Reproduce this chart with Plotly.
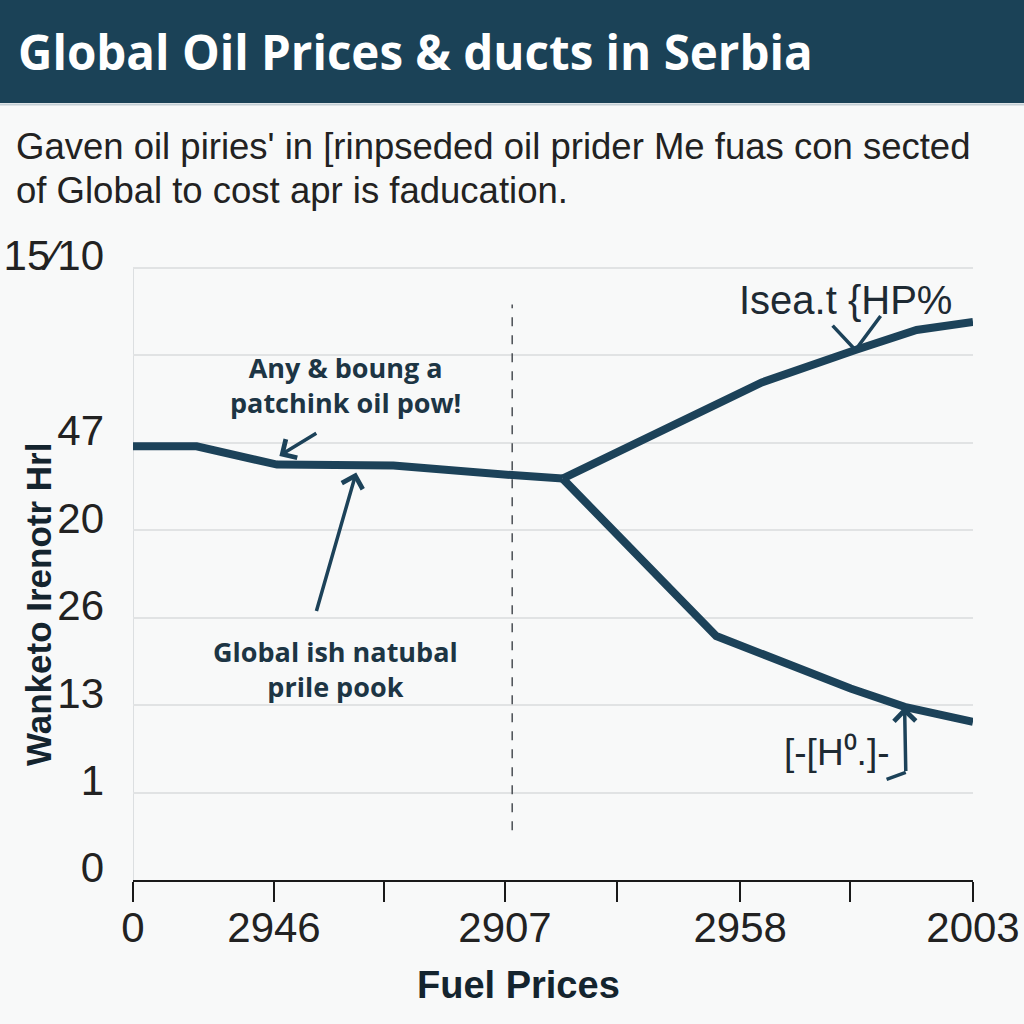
import plotly.graph_objects as go

# ---------------- data ----------------
x_shared = [0.0, 0.53, 1.2, 2.17, 3.16, 3.58]
y_shared = [4.96, 4.96, 4.75, 4.74, 4.63, 4.59]
x_up = [3.58, 5.24, 6.02, 6.53, 7.0]
y_up = [4.59, 5.69, 6.06, 6.29, 6.38]
x_down = [3.58, 4.86, 5.98, 6.43, 7.0]
y_down = [4.59, 2.79, 2.19, 1.98, 1.81]
event_x = 3.16

y_tick_labels = ["0", "1", "13", "26", "20", "47", "", "15\u204410"]
x_tick_labels = ["0", "2946", "2907", "2958", "2003"]
x_tick_vals = [0, 1.175, 3.1, 5.06, 7]
x_minor_vals = [2.09, 4.03, 5.975]

title = "Global Oil Prices & ducts in Serbia"
sub1 = "Gaven oil piries' in [rinpseded oil prider Me fuas con sected"
sub2 = "of Global to cost apr is faducation."
y_title = "Wanketo Irenotr Hrl"
x_title = "Fuel Prices"
note1 = "Any & boung a<br>patchink oil pow!"
note2 = "Global ish natubal<br>prile pook"
note3 = "Isea.t {HP%"
note4 = "[-[H\u2070.]-"

# ---------------- style ----------------
NAVY = "#1c4259"
BG = "#f8f9f9"
LIB = "Liberation Sans, Arial, sans-serif"
BOLDF = "Open Sans, Noto Sans, sans-serif"

L, R, T, B = 133, 51, 246, 144
PW = 1024 - L - R
PH = 1024 - T - B


def px(xp):
    return (xp - L) / PW


def py(yp):
    return (1024 - B - yp) / PH


fig = go.Figure()
line_style = dict(color=NAVY, width=8)
for xs, ys in [(x_shared, y_shared), (x_up, y_up), (x_down, y_down)]:
    fig.add_trace(go.Scatter(x=xs, y=ys, mode="lines", line=line_style,
                             showlegend=False, hoverinfo="skip", cliponaxis=False))

shapes = [
    dict(type="rect", xref="paper", yref="paper", x0=px(0), x1=px(1024),
         y0=py(103), y1=py(0), fillcolor="#1b4257", line=dict(width=0), layer="below"),
    dict(type="line", xref="paper", yref="paper", x0=px(0), x1=px(1024),
         y0=py(104.5), y1=py(104.5), line=dict(color="#c5d0d6", width=2)),
    dict(type="line", xref="x", yref="y", x0=0, x1=0, y0=0, y1=7,
         line=dict(color="#dcdfe1", width=2), layer="below"),
    dict(type="line", xref="x", yref="y", x0=event_x, x1=event_x, y0=0.57, y1=6.58,
         line=dict(color="#4a4f54", width=1.5, dash="dash")),
    dict(type="path", xref="x", yref="y",
         path="M 5.83,6.34 L 6.02,6.06 L 6.23,6.45",
         line=dict(color=NAVY, width=3.5)),
    dict(type="line", xref="x", yref="y", x0=6.28, x1=6.44, y0=1.15, y1=1.23,
         line=dict(color=NAVY, width=3.5)),
]

ann = [
    dict(text=title, xref="paper", yref="paper", x=px(16), y=py(52), xanchor="left",
         yanchor="middle", showarrow=False,
         font=dict(family=BOLDF, size=47.5, color="white", weight="bold")),
    dict(text=sub1, xref="paper", yref="paper", x=px(14), y=py(146), xanchor="left",
         yanchor="middle", showarrow=False, font=dict(family=LIB, size=36.5, color="#222")),
    dict(text=sub2, xref="paper", yref="paper", x=px(14), y=py(190), xanchor="left",
         yanchor="middle", showarrow=False, font=dict(family=LIB, size=36.5, color="#222")),
    dict(text=y_title, xref="paper", yref="paper", x=px(38), y=py(605), textangle=-90,
         xanchor="center", yanchor="middle", showarrow=False,
         font=dict(family=LIB, size=35, color="#14242e", weight="bold")),
    dict(text=x_title, xref="paper", yref="paper", x=px(518), y=py(985),
         xanchor="center", yanchor="middle", showarrow=False,
         font=dict(family=LIB, size=38, color="#14242e", weight="bold")),
    dict(text=note1, x=1.77, y=5.66, xref="x", yref="y", showarrow=False,
         font=dict(family=BOLDF, size=27, color="#1d3544", weight="bold")),
    dict(text=note2, x=1.69, y=2.41, xref="x", yref="y", showarrow=False,
         font=dict(family=BOLDF, size=27, color="#1d3544", weight="bold")),
    dict(text=note3, x=5.94, y=6.63, xref="x", yref="y", showarrow=False,
         font=dict(family=LIB, size=40, color="#1e2a33")),
    dict(text=note4, x=5.86, y=1.46, xref="x", yref="y", showarrow=False,
         font=dict(family=LIB, size=37, color="#1e2a33")),
]
arrows = [
    (1.22, 4.85, 1.54, 5.12),
    (1.86, 4.66, 1.525, 3.06),
    (6.43, 1.98, 6.44, 1.23),
]
for xh, yh, xt, yt in arrows:
    ann.append(dict(x=xh, y=yh, ax=xt, ay=yt, xref="x", yref="y", axref="x", ayref="y",
                    text="", showarrow=True, arrowhead=4, arrowsize=1.2, arrowwidth=3.5,
                    arrowcolor=NAVY))

fig.update_layout(
    width=1024, height=1024, autosize=False,
    margin=dict(l=L, r=R, t=T, b=B, autoexpand=False),
    paper_bgcolor=BG, plot_bgcolor=BG,
    shapes=shapes, annotations=ann,
    xaxis=dict(range=[0, 7], tickmode="array", tickvals=x_tick_vals, ticktext=x_tick_labels,
               automargin=False,
               showgrid=False, zeroline=False, showline=True, linecolor="#1a1a1a", linewidth=2,
               ticks="outside", ticklen=20, tickwidth=2, tickcolor="#1a1a1a",
               tickfont=dict(family=LIB, size=42, color="#222"), ticklabelstandoff=-10,
               minor=dict(tickmode="array", tickvals=x_minor_vals, ticks="outside", ticklen=20,
                          tickwidth=2, tickcolor="#1a1a1a", showgrid=False)),
    yaxis=dict(range=[0, 7.25], tickmode="array",
               tickvals=[i + 0.14 for i in range(len(y_tick_labels))],
               ticktext=y_tick_labels, showgrid=False, zeroline=False, showline=False,
               automargin=False,
               ticks="", tickfont=dict(family=LIB, size=42, color="#222"),
               ticklabelstandoff=28,
               minor=dict(tickmode="array", tickvals=list(range(len(y_tick_labels))),
                          showgrid=True, gridcolor="#e1e3e4", gridwidth=2, ticks="")),
)

fig.write_html("out.html")
